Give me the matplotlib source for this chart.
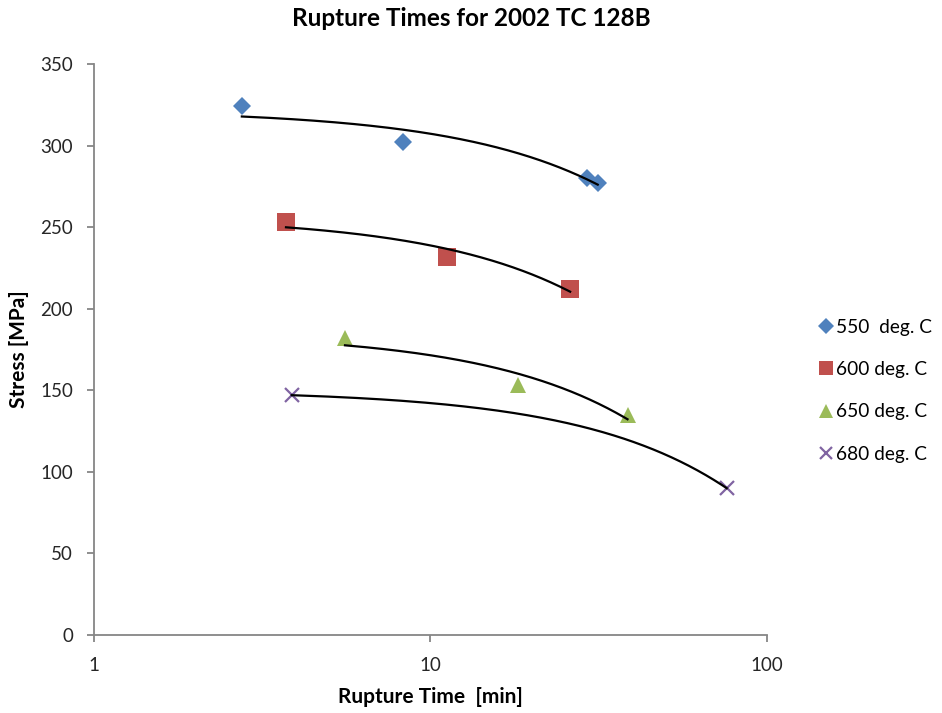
import numpy as np
import matplotlib.pyplot as plt

plt.rcParams['font.family'] = ['Lato', 'DejaVu Sans']

# rupture time [min] and stress [MPa] for each test temperature
t550 = [2.75, 8.3, 29.1, 31.4]
s550 = [324, 302, 280, 277]
t600 = [3.72, 11.2, 26.0]
s600 = [253, 232, 212]
t650 = [5.57, 18.2, 38.5]
s650 = [182, 153, 135]
t680 = [3.87, 75.9]
s680 = [147, 90]

labels = ['550  deg. C', '600 deg. C', '650 deg. C', '680 deg. C']
colors = ['#4F81BD', '#C0504D', '#9BBB59', '#8064A2']
markers = ['D', 's', '^', 'x']
msizes = [9, 12.5, 12, 10]

fig = plt.figure(figsize=(9.42, 7.13), dpi=100)
ax = fig.add_axes([94/942, 78/713, (767-94)/942, (635-64)/713])

series = [(t550, s550), (t600, s600), (t650, s650), (t680, s680)]
for (t, s), lab, c, m, ms in zip(series, labels, colors, markers, msizes):
    t = np.array(t)
    s = np.array(s)
    # linear trendline (straight in linear x, bent on the log axis)
    k, b = np.polyfit(t, s, 1)
    xl = np.linspace(t.min(), t.max(), 200)
    ax.plot(xl, k*xl + b, color='black', lw=1.6, zorder=3)
    if m == 'x':
        ax.plot(t, s, ls='none', marker=m, ms=ms, mew=1.6, color=c, label=lab, zorder=2)
    else:
        ax.plot(t, s, ls='none', marker=m, ms=ms, mew=0, color=c, label=lab, zorder=2)

ax.set_xscale('log')
ax.set_xlim(1, 100)
ax.set_ylim(0, 350)
ax.set_xticks([1, 10, 100])
ax.set_xticklabels(['1', '10', '100'])
ax.xaxis.set_minor_locator(plt.NullLocator())
ax.set_yticks(range(0, 351, 50))

for sp in ['top', 'right']:
    ax.spines[sp].set_visible(False)
for sp in ['left', 'bottom']:
    ax.spines[sp].set_color('#868686')
    ax.spines[sp].set_linewidth(1.3)
ax.tick_params(axis='both', colors='#868686', length=5, width=1.3, labelsize=13.5,
               labelcolor='#262626')
ax.tick_params(axis='x', pad=11)
ax.tick_params(axis='y', pad=10)

fig.text(0.5, 1 - 18/713, 'Rupture Times for 2002 TC 128B', fontsize=17.5,
         fontweight='bold', ha='center', va='center')
ax.set_xlabel('Rupture Time  [min]', fontsize=15, fontweight='bold', va='center')
ax.xaxis.set_label_coords(0.5, -0.1086)
ax.set_ylabel('Stress [MPa]', fontsize=15, fontweight='bold', va='center', ha='center')
ax.yaxis.set_label_coords(-0.112, 0.5)

ax.legend(loc='center left', bbox_to_anchor=(1.05, 0.428), frameon=False,
          fontsize=13.8, handlelength=0.8, handletextpad=0.15, labelspacing=1.32,
          markerscale=0.85)

fig.savefig('out.png', dpi=100)
